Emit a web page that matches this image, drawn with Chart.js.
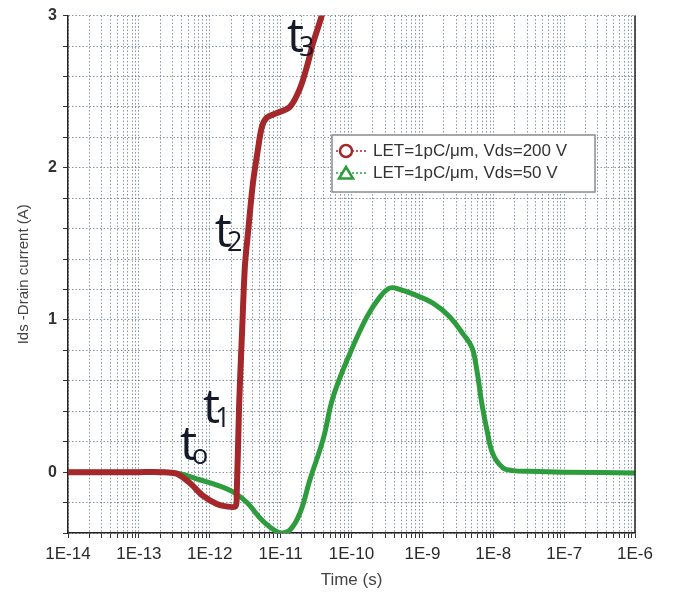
<!DOCTYPE html>
<html lang="en">
<head>
<meta charset="UTF-8">
<title>Ids - Drain current vs time</title>
<script src="https://cdn.jsdelivr.net/npm/chart.js"></script>
<style>
  html, body { margin: 0; padding: 0; background: #fff; }
  #wrap { width: 673px; height: 597px; position: relative; }
</style>
</head>
<body>
<div id="wrap"><canvas id="chart"></canvas></div>
<script>
  // series (time in s, current in A)
  const redTimes = [1e-14, 1e-13, 2e-13, 3.4e-13, 5.2e-13, 8e-13, 1.26e-12, 1.7e-12, 2.3e-12, 2.4e-12,
    2.6e-12, 2.85e-12, 3.13e-12, 3.46e-12, 4.07e-12, 4.78e-12, 5.45e-12, 6.41e-12, 8.87e-12, 1.35e-11,
    1.87e-11, 2.4e-11, 2.87e-11, 3.8e-11, 4.5e-11];
  const redValues = [0, 0, 0, -0.01, -0.07, -0.155, -0.21, -0.225, -0.225, -0.15,
    0.45, 0.91, 1.35, 1.57, 1.90, 2.12, 2.27, 2.33, 2.36, 2.40,
    2.52, 2.68, 2.82, 3.0, 3.15];

  const greenTimes = [1e-14, 1e-13, 2e-13, 3.8e-13, 7.2e-13, 1.26e-12, 2.12e-12, 3.35e-12, 5.6e-12, 9.8e-12,
    1.35e-11, 1.87e-11, 2.59e-11, 4e-11, 5.47e-11, 9.5e-11, 1.65e-10, 2.51e-10, 3.48e-10, 4.82e-10,
    8.36e-10, 1.41e-9, 2.44e-9, 3.72e-9, 4.99e-9, 5.87e-9, 6.9e-9, 8.12e-9, 9.87e-9, 1.36e-8,
    1.89e-8, 3.28e-8, 1e-7, 1e-6];
  const greenValues = [0, 0, 0, -0.01, -0.05, -0.085, -0.13, -0.2, -0.32, -0.40,
    -0.38, -0.27, -0.05, 0.22, 0.49, 0.78, 1.02, 1.15, 1.21, 1.20,
    1.16, 1.11, 1.02, 0.91, 0.82, 0.67, 0.45, 0.28, 0.12, 0.03,
    0.01, 0.005, 0, -0.005];

  const seriesLabels = ['LET=1pC/μm, Vds=200 V', 'LET=1pC/μm, Vds=50 V'];
  const seriesColors = ['#a4272a', '#2c9c3c'];

  const xTickLabels = ['1E-14', '1E-13', '1E-12', '1E-11', '1E-10', '1E-9', '1E-8', '1E-7', '1E-6'];
  const yTickLabels = ['0', '1', '2', '3'];

  // t0..t3 notes, placed at (time, current) of the letter's left edge / baseline
  const noteTimes = [3.8e-13, 8.0e-13, 1.18e-12, 1.23e-11];
  const noteValues = [0.08, 0.32, 1.48, 2.76];
  const noteSubs = ['o', '1', '2', '3'];

  const toPoints = (xs, ys) => xs.map((x, i) => ({ x: x, y: ys[i] }));

  // every decade plus 2..9 minor positions, for the log grid
  const firstExp = -14;
  const lastExp = firstExp + xTickLabels.length - 1;
  function logTicks() {
    const out = [];
    for (let e = firstExp; e <= lastExp; e++) {
      for (let m = 1; m <= (e === lastExp ? 1 : 9); m++) out.push({ value: m * Math.pow(10, e) });
    }
    return out;
  }

  const notesPlugin = {
    id: 'notes',
    afterDatasetsDraw(chart) {
      const { ctx, scales } = chart;
      ctx.save();
      ctx.fillStyle = '#141a2a';
      ctx.textBaseline = 'alphabetic';
      ctx.textAlign = 'left';
      noteTimes.forEach((t, i) => {
        const px = scales.x.getPixelForValue(t);
        const py = scales.y.getPixelForValue(noteValues[i]);
        ctx.font = '48px "Open Sans"';
        ctx.fillText('t', px, py);
        const w = ctx.measureText('t').width;
        ctx.font = '27px "Open Sans"';
        ctx.fillText(noteSubs[i], px + w - 5, py + 4);
      });
      ctx.restore();
    }
  };

  const legendPlugin = {
    id: 'boxLegend',
    afterDraw(chart) {
      const ctx = chart.ctx;
      const bx = 332, by = 135, bw = 263, bh = 57;
      ctx.save();
      ctx.fillStyle = '#fff';
      ctx.fillRect(bx, by, bw, bh);
      ctx.strokeStyle = '#8c8c8c';
      ctx.lineWidth = 1.5;
      ctx.strokeRect(bx, by, bw, bh);
      seriesLabels.forEach((label, i) => {
        const y = by + 16 + i * 22;
        const c = seriesColors[i];
        ctx.strokeStyle = c;
        ctx.lineWidth = 1.5;
        ctx.setLineDash([2, 2]);
        ctx.beginPath();
        ctx.moveTo(bx + 4, y);
        ctx.lineTo(bx + 36, y);
        ctx.stroke();
        ctx.setLineDash([]);
        ctx.lineWidth = 2.5;
        ctx.fillStyle = '#fff';
        ctx.beginPath();
        if (i === 0) {
          ctx.arc(bx + 14, y, 6, 0, Math.PI * 2);
        } else {
          ctx.moveTo(bx + 14, y - 6);
          ctx.lineTo(bx + 21, y + 5.5);
          ctx.lineTo(bx + 7, y + 5.5);
          ctx.closePath();
        }
        ctx.fill();
        ctx.stroke();
        ctx.fillStyle = '#333';
        ctx.font = '17px "Liberation Sans", Arial, sans-serif';
        ctx.textBaseline = 'middle';
        ctx.fillText(label, bx + 41, y);
      });
      ctx.restore();
    }
  };

  const framePlugin = {
    id: 'frame',
    afterDatasetsDraw(chart) {
      const { ctx, chartArea } = chart;
      ctx.save();
      ctx.strokeStyle = '#222';
      ctx.lineWidth = 1.5;
      ctx.beginPath();
      ctx.moveTo(chartArea.right, chartArea.top);
      ctx.lineTo(chartArea.right, chartArea.bottom);
      ctx.stroke();
      ctx.restore();
    }
  };

  const gridColor = 'rgba(95,115,135,0.75)';

  new Chart(document.getElementById('chart'), {
    type: 'line',
    data: {
      datasets: [{
        label: seriesLabels[0],
        data: toPoints(redTimes, redValues),
        borderColor: seriesColors[0],
        borderWidth: 6,
        pointRadius: 0,
        tension: 0.3,
        fill: false
      }, {
        label: seriesLabels[1],
        data: toPoints(greenTimes, greenValues),
        borderColor: seriesColors[1],
        borderWidth: 5,
        pointRadius: 0,
        tension: 0.4,
        fill: false
      }]
    },
    options: {
      responsive: true,
      maintainAspectRatio: false,
      animation: false,
      layout: { padding: { top: 15, right: 38, left: 0, bottom: 0 } },
      plugins: { legend: { display: false }, tooltip: { enabled: false } },
      scales: {
        x: {
          type: 'logarithmic',
          min: 1e-14,
          max: 1e-6,
          afterBuildTicks(scale) { scale.ticks = logTicks(); },
          afterFit(scale) { scale.height = 64; },
          ticks: {
            autoSkip: false,
            maxRotation: 0,
            padding: 6,
            color: '#2a2a2a',
            font: { family: '"Liberation Sans", Arial, sans-serif', size: 17 },
            callback(value) {
              const e = Math.round(Math.log10(value));
              if (Math.abs(value / Math.pow(10, e) - 1) > 1e-6) return '';
              return xTickLabels[e - firstExp] || '';
            }
          },
          grid: { color: gridColor, lineWidth: 1, tickLength: 5, tickColor: '#333' },
          border: { display: true, color: '#222', width: 1.5, dash: [1.5, 2] },
          title: {
            display: true,
            text: 'Time (s)',
            color: '#444',
            padding: { top: 0, bottom: 6 },
            font: { family: '"Liberation Sans", Arial, sans-serif', size: 17 }
          }
        },
        y: {
          min: -0.4,
          max: 3,
          afterFit(scale) { scale.width = 68; },
          ticks: {
            stepSize: 0.2,
            autoSkip: false,
            padding: 6,
            color: '#333',
            font: { family: '"Liberation Sans", Arial, sans-serif', size: 16, weight: 'bold' },
            callback(value) {
              const r = Math.round(value);
              if (Math.abs(value - r) > 1e-6) return '';
              return yTickLabels.includes(String(r)) ? String(r) : '';
            }
          },
          grid: { color: gridColor, lineWidth: 1, tickLength: 5, tickColor: '#333' },
          border: { display: true, color: '#222', width: 1.5, dash: [1.5, 2] },
          title: {
            display: true,
            text: 'Ids -Drain current (A)',
            color: '#444',
            padding: { top: 15, bottom: 0 },
            font: { family: '"Liberation Sans", Arial, sans-serif', size: 15 }
          }
        }
      }
    },
    plugins: [framePlugin, notesPlugin, legendPlugin]
  });
</script>
</body>
</html>
